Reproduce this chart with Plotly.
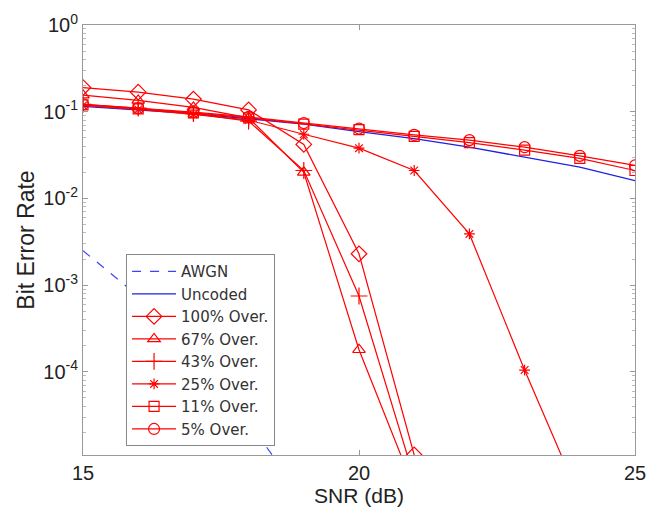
import plotly.graph_objects as go
import numpy as np

snr_awgn = [15, 16, 17, 18, 19]
ber_awgn = [2.5e-3, 7.5e-4, 1.5e-4, 2.6e-5, 3.5e-6]

snr_full = [15, 16, 17, 18, 19, 20, 21, 22, 23, 24, 25]
ber_uncoded = [0.115, 0.105, 0.095, 0.083, 0.072, 0.059, 0.049, 0.039, 0.030, 0.023, 0.016]

snr_short = [15, 16, 17, 18, 19, 20, 21]
ber_100 = [0.19, 0.168, 0.14, 0.105, 0.042, 2.3e-3, 1.1e-5]
ber_67 = [0.155, 0.135, 0.112, 0.085, 0.020, 1.8e-4, 4.5e-6]
ber_43 = [0.122, 0.110, 0.095, 0.078, 0.021, 7.5e-4, 6e-6]

snr_25 = [15, 16, 17, 18, 19, 20, 21, 22, 23, 24]
ber_25 = [0.118, 0.106, 0.093, 0.080, 0.055, 0.038, 0.021, 3.9e-3, 1.05e-4, 3.5e-6]

ber_11 = [0.120, 0.108, 0.097, 0.085, 0.072, 0.062, 0.052, 0.044, 0.036, 0.029, 0.021]
ber_5 = [0.122, 0.110, 0.099, 0.087, 0.074, 0.064, 0.054, 0.047, 0.039, 0.031, 0.024]

y_tickvals = [1, 0.1, 0.01, 0.001, 0.0001]
y_ticktext = ["10<sup>0</sup>", "10<sup>-1</sup>", "10<sup>-2</sup>", "10<sup>-3</sup>", "10<sup>-4</sup>"]
x_tickvals = [15, 20, 25]

RED = "#ff0000"
BLUE = "#2020e0"

fig = go.Figure()
fig.add_trace(go.Scatter(x=snr_awgn, y=ber_awgn, mode="lines", name="AWGN",
                         line=dict(color="#4040ff", width=1.2, dash="dash")))
fig.add_trace(go.Scatter(x=snr_full, y=ber_uncoded, mode="lines", name="Uncoded",
                         line=dict(color=BLUE, width=1.3)))

def red_trace(x, y, name, symbol, size=11):
    return go.Scatter(x=x, y=y, mode="lines+markers", name=name,
                      line=dict(color=RED, width=1.2),
                      marker=dict(symbol=symbol, size=size, color=RED,
                                  line=dict(color=RED, width=1.2)))

fig.add_trace(red_trace(snr_short, ber_100, "100% Over.", "diamond-open", 12))
fig.add_trace(red_trace(snr_short, ber_67, "67% Over.", "triangle-up-open", 11))
fig.add_trace(red_trace(snr_short, ber_43, "43% Over.", "cross-thin-open", 12))
fig.add_trace(red_trace(snr_25, ber_25, "25% Over.", "asterisk-open", 9))
fig.add_trace(red_trace(snr_full, ber_11, "11% Over.", "square-open", 10))
fig.add_trace(red_trace(snr_full, ber_5, "5% Over.", "circle-open", 11))

minor_vals = [m * 10.0 ** k for k in range(-6, 0) for m in range(2, 10)]

fig.update_layout(
    width=652, height=517,
    margin=dict(l=83, r=17, t=25, b=62, autoexpand=False),
    paper_bgcolor="white", plot_bgcolor="white",
    font=dict(family="Arial, Liberation Sans, sans-serif", size=18, color="#222"),
    showlegend=True,
    legend=dict(x=0.078, y=0.467, xanchor="left", yanchor="top",
                bgcolor="white", bordercolor="#888", borderwidth=1,
                font=dict(family="DejaVu Sans, sans-serif", size=15, color="#333"),
                tracegroupgap=0, itemwidth=44),
    xaxis=dict(range=[15, 25], tickvals=x_tickvals, ticks="inside", ticklen=5,
               showgrid=False, zeroline=False, showline=True, linecolor="#999",
               linewidth=1, mirror="ticks", tickcolor="#999", automargin=False,
               tickfont=dict(size=20, color="#222"),
               title=dict(text="SNR (dB)", font=dict(size=21), standoff=2)),
    yaxis=dict(type="log", range=[np.log10(1.1e-5), 0], tickvals=y_tickvals,
               ticktext=y_ticktext, ticks="inside", ticklen=5, automargin=False,
               showgrid=False, zeroline=False, showline=True, linecolor="#999",
               linewidth=1, mirror="ticks", tickcolor="#999",
               tickfont=dict(size=20, color="#222"),
               minor=dict(tickvals=minor_vals, ticks="inside", ticklen=3, tickcolor="#bbb"),
               title=dict(text="Bit Error Rate", font=dict(size=23), standoff=2)),
)

fig.write_html("out.html")
